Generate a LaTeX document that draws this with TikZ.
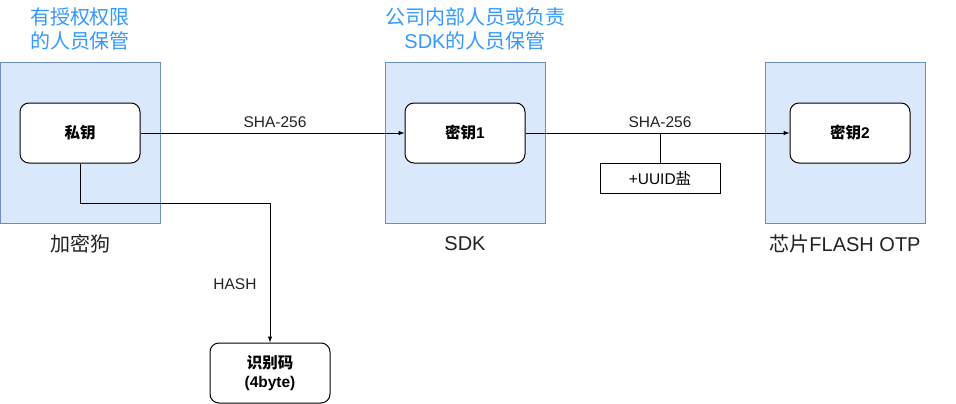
\documentclass[tikz,border=0pt]{standalone}
\usepackage{fontspec}
\setmainfont{Liberation Sans}
\newfontfamily\cjk{Noto Sans CJK SC}
\usetikzlibrary{positioning}
\definecolor{groupfill}{HTML}{DAE8FC}
\definecolor{groupdraw}{HTML}{6C8EBF}
\definecolor{noteblue}{HTML}{3399FF}
\definecolor{labelgray}{HTML}{222222}

\begin{document}
\begin{tikzpicture}[x=1pt, y=-1pt, >=latex]

        % --- Styles ---
        \tikzset{
            group/.style={draw=groupdraw, fill=groupfill, line width=1pt, minimum width=160pt, minimum height=160pt, inner sep=0pt},
            keybox/.style={draw, line width=1pt, rounded corners=9pt, fill=white, minimum width=120pt, minimum height=60pt, align=center, font=\bfseries\fontsize{15.5}{18.5}\selectfont},
            saltbox/.style={draw, line width=1pt, fill=white, minimum width=120pt, minimum height=30pt, font=\fontsize{15.5}{18.5}\selectfont},
            note/.style={text=noteblue, align=center, font=\fontsize{20}{24}\selectfont},
            grouplabel/.style={text=labelgray, font=\fontsize{20}{24}\selectfont},
            edgelabel/.style={text=labelgray, font=\fontsize{15.5}{18.5}\selectfont},
            link/.style={line width=1pt}
        }

        \useasboundingbox (0,0) rectangle (956,404);

        % --- Zones ---
        \node[group] (dongle) at (80,143) {};
        \node[group] (sdk) at (465,143) {};
        \node[group] (chip) at (845,143) {};

        \node[note] (dongletitle) at (80,28.5) {{\cjk 有授权权限}\\{\cjk 的人员保管}};
        \node[note] (sdktitle) at (475,28.5) {{\cjk 公司内部人员或负责}\\SDK{\cjk 的人员保管}};

        \node[grouplabel] (donglename) at (80,244) {\cjk 加密狗};
        \node[grouplabel] (sdkname) at (465,244) {SDK};
        \node[grouplabel] (chipname) at (845,244) {{\cjk 芯片}FLASH OTP};

        % --- Clés ---
        \node[keybox] (key0) at (80,133) {\cjk 私钥};
        \node[keybox] (key1) at (465,133) {{\cjk 密钥}1};
        \node[keybox] (key2) at (850,133) {{\cjk 密钥}2};
        \node[keybox] (idcode) at (270,373) {{\cjk 识别码}\\(4byte)};
        \node[saltbox] (salt) at (660,178) {+UUID{\cjk 盐}};

        % --- Liaisons ---
        \draw[link, ->] (key0) -- (key1);
        \draw[link, ->] (key1) -- (key2);
        \draw[link] (salt.north) -- (salt.north |- key1.east);
        \draw[link, ->] (key0.south) -- ++(0,40) -| (idcode.north);

        \node[edgelabel] (sha1) at (275,122.5) {SHA-256};
        \node[edgelabel] (sha2) at (660,122.5) {SHA-256};
        \node[edgelabel] (hash) at (235,284) {HASH};

\end{tikzpicture}
\end{document}
